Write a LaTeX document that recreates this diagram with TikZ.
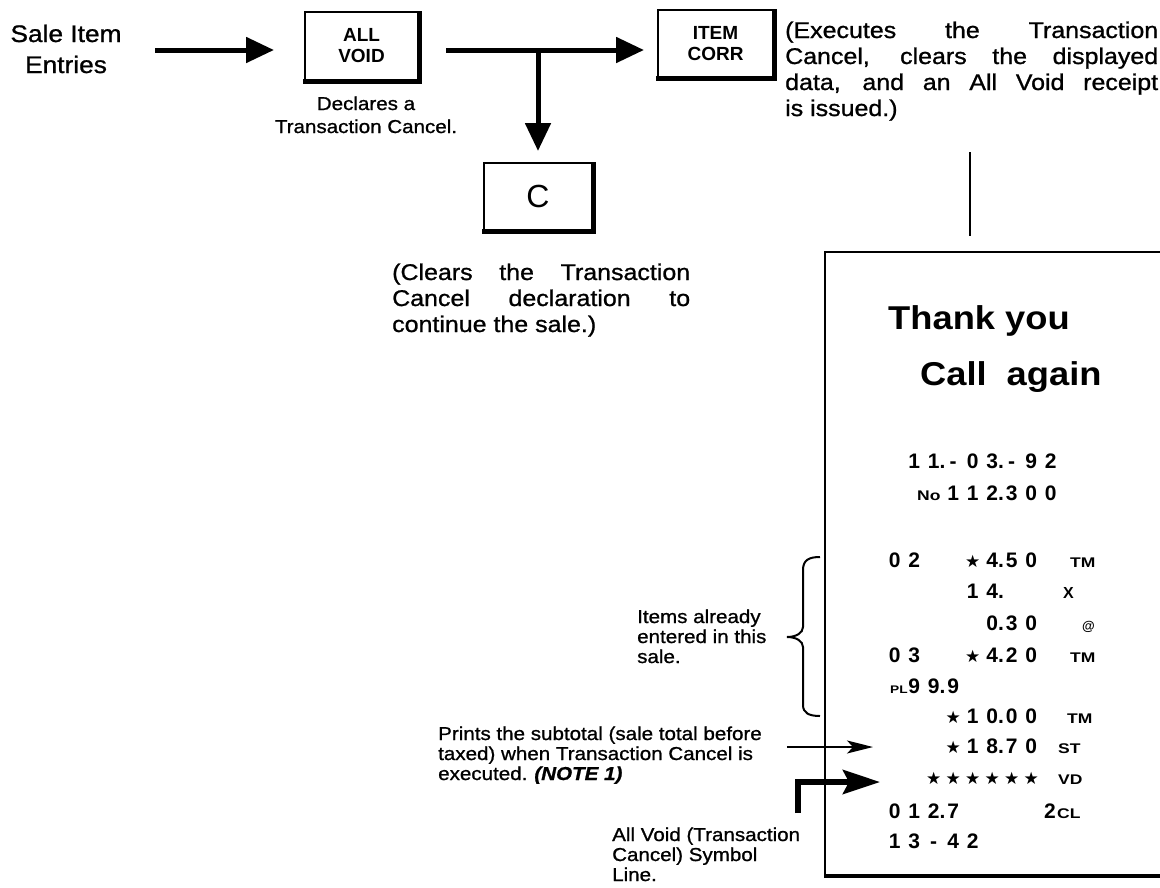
\documentclass[tikz,border=0pt]{standalone}
\usepackage{fontspec}
\setmainfont{Liberation Sans}[FakeStretch=1.1, FakeBold=1]
\newfontfamily\plainsans{Liberation Sans}
\newfontfamily\rcptfont{Liberation Sans}[FakeStretch=1.1]
\newfontfamily\labfont{Liberation Sans}[FakeStretch=1.25]
\newfontfamily\starfont{DejaVu Sans}
\usetikzlibrary{arrows.meta}
\newcommand\setfs[2]{\fontsize{#1}{#2}\selectfont}
\newcommand\blockL[2]{\vtop{\baselineskip=#1pt\lineskiplimit=-1000pt\halign{##\hfil\cr#2\crcr}}}
\newcommand\blockC[2]{\vtop{\baselineskip=#1pt\lineskiplimit=-1000pt\halign{\hfil##\hfil\cr#2\crcr}}}
\newcommand\rcell[1]{\makebox[19.5pt]{#1}}
\newcommand\rdot[1]{\rcell{#1\rlap{.}}}
\newcommand\rstar{\rcell{\starfont\setfs{17}{17}★}}
\newcommand\keyshade[1]{\draw[line width=5pt] ([xshift=-1pt]#1.south west) -- (#1.south east) -- (#1.north east);}
\tikzset{
  keycap/.style={draw, line width=2pt, inner sep=0pt, align=center,
    font=\plainsans\bfseries\setfs{19}{21}},
  bigarrow/.style={line width=5pt, -{Triangle[length=28pt,width=25pt]}},
  thinarrow/.style={line width=1.6pt, -{Stealth[length=26pt,width=13pt,inset=6pt]}},
  bentarrow/.style={line width=6pt, line join=miter, -{Stealth[length=37pt,width=24pt,inset=6pt]}},
  para/.style={inner sep=0pt, anchor=base west},
  smalltext/.style={font=\setfs{18.7}{20}},
  bigtext/.style={font=\setfs{22.7}{26}},
  rc/.style={inner sep=0pt, anchor=base west, font=\plainsans\bfseries\setfs{21}{21}},
  rclab/.style={inner sep=0pt, anchor=base west, font=\labfont\bfseries\setfs{14}{14}},
  thinline/.style={line width=2pt}
}
\begin{document}
\begin{tikzpicture}[x=1pt,y=-1pt]
\useasboundingbox (0,0) rectangle (1160,887);

% ---- key boxes
\node[keycap, minimum width=113pt, minimum height=68pt] (allvoid) at (361.5,46) {ALL\\VOID};
\node[keycap, minimum width=115pt, minimum height=67pt] (itemcorr) at (715.5,43.5) {ITEM\\CORR};
\node[keycap, minimum width=108pt, minimum height=67pt, font=\plainsans\setfs{32}{32}] (cbox) at (538,196.5) {C};
\keyshade{allvoid}
\keyshade{itemcorr}
\keyshade{cbox}

% ---- texts
\node[para, anchor=base, font=\setfs{23.9}{31}] (sale) at (66,42) {\blockC{31}{Sale Item\cr Entries}};
\node[para, anchor=base, smalltext] (declares) at (366,110) {\blockC{23}{Declares a\cr Transaction Cancel.}};
\node[para, bigtext] (executes) at (785,38) {\blockL{26}{%
  \makebox[373pt][s]{(Executes the Transaction}\cr
  \makebox[373pt][s]{Cancel, clears the displayed}\cr
  \makebox[373pt][s]{data, and an All Void receipt}\cr
  is issued.)}};
\node[para, bigtext] (clears) at (392,280) {\blockL{26}{%
  \makebox[298pt][s]{(Clears the Transaction}\cr
  \makebox[298pt][s]{Cancel declaration to}\cr
  continue the sale.)}};
\node[para, smalltext] (items) at (637,623) {\blockL{20}{Items already\cr entered in this\cr sale.}};
\node[para, smalltext] (prints) at (438,740) {\blockL{20}{Prints the subtotal (sale total before\cr
  taxed) when Transaction Cancel is\cr executed.\hspace{7pt}\textbf{\textit{(NOTE 1)}}}};
\node[para, smalltext] (voidlbl) at (612,841) {\blockL{20}{All Void (Transaction\cr Cancel) Symbol\cr Line.}};

% ---- arrows of the key sequence
\coordinate (j) at (538,50);
\draw[bigarrow, shorten <=33.5pt, shorten >=30pt] (sale.east |- j) -- (allvoid.west |- j);
\draw[bigarrow, shorten <=27pt, shorten >=13pt] (allvoid.east |- j) -- (itemcorr.west |- j);
\draw[bigarrow, shorten >=11pt] (j) -- (cbox.north);

% ---- line to the receipt
\coordinate (vl1) at (970,152);
\coordinate (vl2) at (970,236);
\draw[thinline] (vl1) -- (vl2);

% ---- receipt frame
\draw[line width=2.5pt] (1160,252) -- (825,252);
\draw[line width=2.2pt] (825,251) -- (825,877);
\draw[line width=3.5pt] (824,876) -- (1160,876);

\node[anchor=base west, inner sep=0pt, font=\rcptfont\bfseries\setfs{33}{33}] (thanks) at (888,329) {Thank you};
\node[anchor=base west, inner sep=0pt, font=\rcptfont\bfseries\setfs{33}{33}] (callagain) at (920,385) {Call\hspace{20pt}again};

\node[rc] (r1) at (904.25,468) {\rcell{1}\rdot{1}\rcell{-}\rcell{0}\rdot{3}\rcell{-}\rcell{9}\rcell{2}};
\node[rclab] (nolab) at (917,500) {No};
\node[rc] (r2) at (943.25,500) {\rcell{1}\rcell{1}\rdot{2}\rcell{3}\rcell{0}\rcell{0}};
\node[rc] (r3) at (884.75,567) {\rcell{0}\rcell{2}\rcell{}\rcell{}\rstar\rdot{4}\rcell{5}\rcell{0}};
\node[rclab] (r3l) at (1070,567) {TM};
\node[rc] (r4) at (962.75,598) {\rcell{1}\rdot{4}};
\node[rc, font=\plainsans\bfseries\setfs{16}{16}] (r4l) at (1063,598) {X};
\node[rc] (r5) at (982.25,630) {\rdot{0}\rcell{3}\rcell{0}};
\node[rclab, font=\plainsans\bfseries\setfs{13}{13}] (r5l) at (1082,630) {@};
\node[rc] (r6) at (884.75,662) {\rcell{0}\rcell{3}\rcell{}\rcell{}\rstar\rdot{4}\rcell{2}\rcell{0}};
\node[rclab] (r6l) at (1070,662) {TM};
\node[rclab, font=\labfont\bfseries\setfs{11}{11}] (r7l) at (890,693) {PL};
\node[rc] (r7) at (904.25,693) {\rcell{9}\rdot{9}\rcell{9}};
\node[rc] (r8) at (943.25,723) {\rstar\rcell{1}\rdot{0}\rcell{0}\rcell{0}};
\node[rclab] (r8l) at (1067,723) {TM};
\node[rc] (r9) at (943.25,753) {\rstar\rcell{1}\rdot{8}\rcell{7}\rcell{0}};
\node[rclab] (r9l) at (1058,753) {ST};
\node[rc] (r10) at (923.75,784) {\rstar\rstar\rstar\rstar\rstar\rstar};
\node[rclab] (r10l) at (1058,784) {VD};
\node[rc] (r11) at (884.75,818) {\rcell{0}\rcell{1}\rdot{2}\rcell{7}};
\node[rc] (r11n) at (1044,818) {2};
\node[rclab] (r11l) at (1057,818) {CL};
\node[rc] (r12) at (884.75,848) {\rcell{1}\rcell{3}\rcell{-}\rcell{4}\rcell{2}};

% ---- brace for the items
\draw[line width=2pt] (820,557) .. controls (809,557) and (803,560) .. (803,570)
  -- (803,627) .. controls (803,633) and (796,637) .. (787,637)
  .. controls (796,637) and (803,641) .. (803,647)
  -- (803,705) .. controls (803,713) and (809,716) .. (820,716);

% ---- pointers into the receipt
\coordinate (sttip) at (873,747);
\draw[thinarrow, shorten <=25pt] (prints.east |- sttip) -- (sttip);
\coordinate (vdtip) at (880,782);
\coordinate (vdfoot) at (798,813);
\draw[bentarrow] (vdfoot) |- (vdtip);
\end{tikzpicture}
\end{document}
